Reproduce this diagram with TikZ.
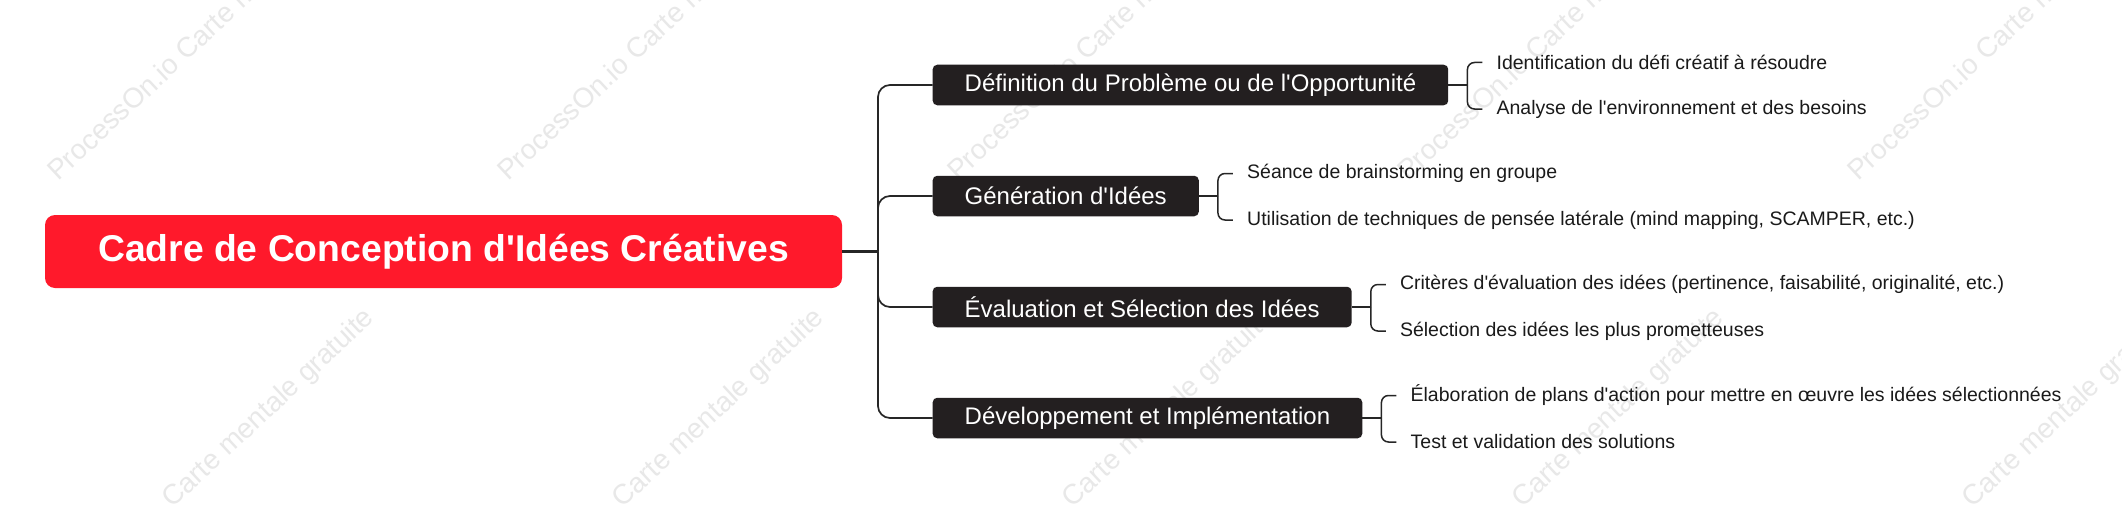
\documentclass[tikz,border=0pt]{standalone}
\usepackage{fontspec}
\setmainfont{Liberation Sans}[Ligatures=TeXOff]
\usetikzlibrary{positioning}

\begin{document}
\begin{tikzpicture}[x=1pt,y=1pt,yscale=-1,xscale=1,
  rootbox/.style={fill={rgb,255:red,255;green,25;blue,43}, rounded corners=10pt, text=white, font=\fontsize{37.3}{44}\selectfont\bfseries, minimum width=797pt, minimum height=73pt, inner sep=0pt},
  topicbox/.style={fill={rgb,255:red,35;green,31;blue,32}, rounded corners=4.5pt, text=white, font=\fontsize{24}{29}\selectfont, minimum height=40.5pt, inner xsep=32pt, inner ysep=0pt, anchor=west},
  leaftext/.style={text={rgb,255:red,26;green,26;blue,26}, font=\fontsize{19.5}{23}\selectfont, inner xsep=14pt, inner ysep=0pt, anchor=west},
  trunkline/.style={draw={rgb,255:red,38;green,38;blue,38}, line width=1.7pt, rounded corners=12pt},
  leafline/.style={draw={rgb,255:red,38;green,38;blue,38}, line width=1.5pt, rounded corners=7pt},
  wmark/.style={text={rgb,255:red,232;green,232;blue,232}, font=\fontsize{28}{33}\selectfont, rotate=43, anchor=base west, inner sep=0pt}
]
%set diagram at 2122 x 519
\path[use as bounding box, fill=white] (0,0) rectangle (2122,519);

%Watermark
\begin{scope}
\clip (0,0) rectangle (2122,503);
\node[wmark] (wma) at (58,182) {ProcessOn.io Carte mentale gratuite};
\node[wmark] (wmb) at (508,182) {ProcessOn.io Carte mentale gratuite};
\node[wmark] (wmc) at (958,182) {ProcessOn.io Carte mentale gratuite};
\node[wmark] (wmd) at (1408,182) {ProcessOn.io Carte mentale gratuite};
\node[wmark] (wme) at (1858,182) {ProcessOn.io Carte mentale gratuite};
\node[wmark] (wmf) at (44,629) {ProcessOn.io Carte mentale gratuite};
\node[wmark] (wmg) at (494,629) {ProcessOn.io Carte mentale gratuite};
\node[wmark] (wmh) at (944,629) {ProcessOn.io Carte mentale gratuite};
\node[wmark] (wmi) at (1394,629) {ProcessOn.io Carte mentale gratuite};
\node[wmark] (wmj) at (1844,629) {ProcessOn.io Carte mentale gratuite};
\end{scope}

%Shape: Root
\node[rootbox] (root) at (443.5,251.5) {Cadre de Conception d'Idées Créatives};
\coordinate (hub) at (878,251.5);

%Shape: Topics
\node[topicbox] (def) at (932.5,85) {Définition du Problème ou de l'Opportunité};
\node[topicbox] (gen) at (932.5,196) {Génération d'Idées};
\node[topicbox] (eva) at (932.5,307) {Évaluation et Sélection des Idées};
\node[topicbox] (dev) at (932.5,418) {Développement et Implémentation};

%Brackets
\coordinate (kdef) at ([xshift=19pt]def.east);
\coordinate (kgen) at ([xshift=19pt]gen.east);
\coordinate (keva) at ([xshift=19pt]eva.east);
\coordinate (kdev) at ([xshift=19pt]dev.east);

% Text Node
\path (kdef) ++(15,-22.5) node[leaftext] (def1) {Identification du défi créatif à résoudre};
\path (kdef) ++(15,24) node[leaftext] (def2) {Analyse de l'environnement et des besoins};
% Text Node
\path (kgen) ++(15,-22.5) node[leaftext] (gen1) {Séance de brainstorming en groupe};
\path (kgen) ++(15,24) node[leaftext] (gen2) {Utilisation de techniques de pensée latérale (mind mapping, SCAMPER, etc.)};
% Text Node
\path (keva) ++(15,-22.5) node[leaftext] (eva1) {Critères d'évaluation des idées (pertinence, faisabilité, originalité, etc.)};
\path (keva) ++(15,24) node[leaftext] (eva2) {Sélection des idées les plus prometteuses};
% Text Node
\path (kdev) ++(15,-22.5) node[leaftext] (dev1) {Élaboration de plans d'action pour mettre en œuvre les idées sélectionnées};
\path (kdev) ++(15,24) node[leaftext] (dev2) {Test et validation des solutions};

%Straight Lines
\draw[trunkline, line width=2.6pt] (root.east) -- (hub);
\draw[trunkline] (hub) |- (def.west);
\draw[trunkline] (hub) |- (gen.west);
\draw[trunkline] (hub) |- (eva.west);
\draw[trunkline] (hub) |- (dev.west);

%Straight Lines
\draw[leafline] (def.east) -- (kdef);
\draw[leafline] (kdef) |- (def1.west);
\draw[leafline] (kdef) |- (def2.west);
\draw[leafline] (gen.east) -- (kgen);
\draw[leafline] (kgen) |- (gen1.west);
\draw[leafline] (kgen) |- (gen2.west);
\draw[leafline] (eva.east) -- (keva);
\draw[leafline] (keva) |- (eva1.west);
\draw[leafline] (keva) |- (eva2.west);
\draw[leafline] (dev.east) -- (kdev);
\draw[leafline] (kdev) |- (dev1.west);
\draw[leafline] (kdev) |- (dev2.west);

\end{tikzpicture}
\end{document}
